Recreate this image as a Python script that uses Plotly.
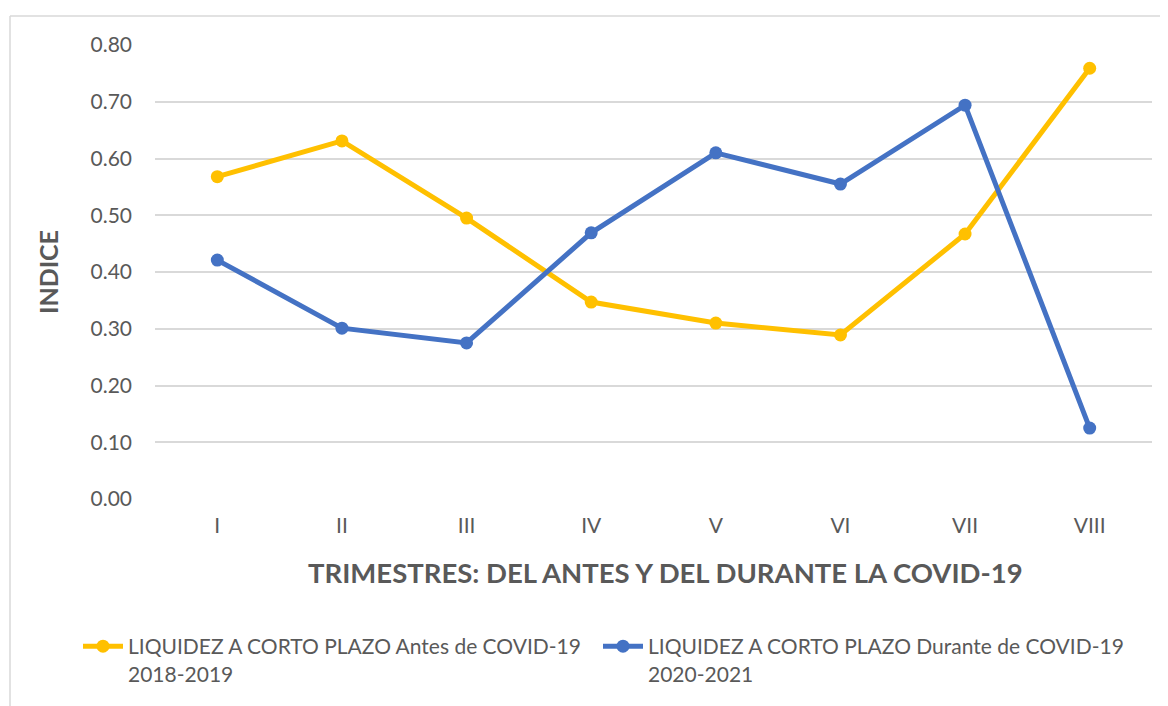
import plotly.graph_objects as go

categories = ["I", "II", "III", "IV", "V", "VI", "VII", "VIII"]
antes = [0.568, 0.631, 0.495, 0.347, 0.310, 0.289, 0.467, 0.759]
durante = [0.421, 0.301, 0.275, 0.469, 0.610, 0.555, 0.694, 0.125]
name_antes = "LIQUIDEZ A CORTO PLAZO Antes de COVID-19<br>2018-2019"
name_durante = "LIQUIDEZ A CORTO PLAZO Durante de COVID-19<br>2020-2021"
y_ticks = [0.0, 0.1, 0.2, 0.3, 0.4, 0.5, 0.6, 0.7, 0.8]
x_title = "TRIMESTRES: DEL ANTES Y DEL DURANTE LA COVID-19"

FONT = "Lato, 'Open Sans', sans-serif"
GRAY = "#595959"

fig = go.Figure()
fig.add_trace(go.Scatter(x=categories, y=antes, name=name_antes, mode="lines+markers",
                         line=dict(color="#FFC000", width=5),
                         marker=dict(size=13, color="#FFC000"), legend="legend"))
fig.add_trace(go.Scatter(x=categories, y=durante, name=name_durante, mode="lines+markers",
                         line=dict(color="#4472C4", width=5),
                         marker=dict(size=13, color="#4472C4"), legend="legend2"))

OFF = 8  # page body margin
W, H = 1168, 706
L, R, T, B = 155 - OFF, 16 + OFF, 45 - OFF, 207 + OFF
pw, ph = W - L - R, H - T - B

def px_x(x):  # page px -> paper x
    return (x - OFF - L) / pw

def px_y(y):  # page px -> paper y
    return 1 - (y - OFF - T) / ph

legend_common = dict(orientation="h", xanchor="left", yanchor="top", y=px_y(626),
                     font=dict(size=21, color=GRAY), itemwidth=40, valign="top",
                     bgcolor="rgba(0,0,0,0)")

fig.update_layout(
    width=W, height=H,
    margin=dict(l=L, r=R, t=T, b=B),
    paper_bgcolor="white", plot_bgcolor="white",
    font=dict(family=FONT, color=GRAY, size=21),
    xaxis=dict(type="category", range=[-0.5, 7.5], showgrid=False, showline=False, ticks="",
               tickfont=dict(size=21, color=GRAY), ticklabelstandoff=12),
    yaxis=dict(range=[0, 0.8], tickvals=y_ticks, tickformat=".2f",
               showgrid=True, gridcolor="#D9D9D9", gridwidth=1.5,
               zeroline=False, showline=False, ticks="",
               tickfont=dict(size=21, color=GRAY), ticklabelstandoff=22,
               title=dict(text="<b>INDICE</b>", font=dict(size=25, color=GRAY), standoff=24)),
    showlegend=True,
    legend=dict(x=px_x(78), **legend_common),
    legend2=dict(x=px_x(598), **legend_common),
    annotations=[
        dict(text=f"<b>{x_title}</b>", xref="paper", yref="paper",
             x=px_x(665), y=px_y(572), xanchor="center", yanchor="middle",
             showarrow=False, font=dict(size=27.5, color=GRAY)),
    ],
    shapes=[
        dict(type="line", xref="paper", yref="paper",
             x0=px_x(10), x1=px_x(10), y0=px_y(16), y1=px_y(720),
             line=dict(color="#D9D9D9", width=1.5)),
        dict(type="line", xref="paper", yref="paper",
             x0=px_x(10), x1=px_x(1180), y0=px_y(16), y1=px_y(16),
             line=dict(color="#D9D9D9", width=1.5)),
    ],
)

fig.write_html("out.html")
